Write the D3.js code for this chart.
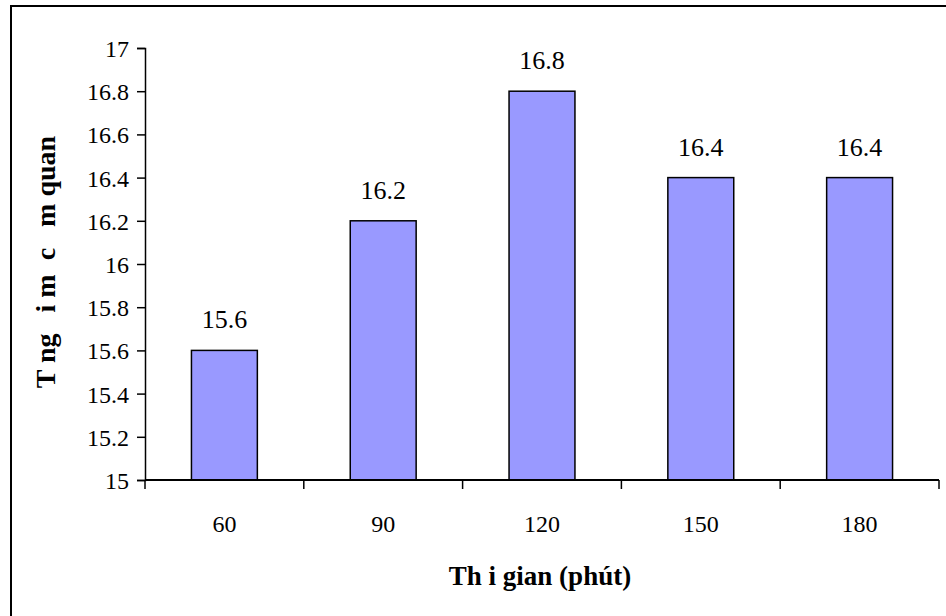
<!DOCTYPE html>
<html>
<head>
<meta charset="utf-8">
<script src="https://cdn.jsdelivr.net/npm/d3@7"></script>
<style>
  body { margin: 0; background: #fff; }
  svg, svg text { font-family: "Liberation Serif", "Times New Roman", serif !important; }
</style>
</head>
<body>
<div id="chart"></div>
<script>
var categories = ["60", "90", "120", "150", "180"];
var values = [15.6, 16.2, 16.8, 16.4, 16.4];
var yTicks = [15, 15.2, 15.4, 15.6, 15.8, 16, 16.2, 16.4, 16.6, 16.8, 17];
var yTitle = "T ng   i m  c   m quan";
var xTitle = "Th i gian (phút)";

var width = 946, height = 616;
var margin = {top: 48, right: 7, bottom: 136, left: 145};

var svg = d3.select("#chart").append("svg")
    .attr("width", width)
    .attr("height", height);

// outer frame (runs off right and bottom edge like the source)
svg.append("rect")
    .attr("x", 11).attr("y", 6)
    .attr("width", 1000).attr("height", 1000)
    .attr("fill", "none")
    .attr("stroke", "#000")
    .attr("stroke-width", 2);

var x = d3.scaleBand()
    .domain(categories)
    .range([margin.left, width - margin.right])
    .paddingInner(0.585)
    .paddingOuter(0.2925);

var xOuter = d3.scaleBand()
    .domain(categories)
    .range([margin.left, width - margin.right]);

var y = d3.scaleLinear()
    .domain([15, 17])
    .range([height - margin.bottom, margin.top]);

// bars
svg.selectAll(".bar")
    .data(values)
    .enter()
    .append("rect")
    .attr("class", "bar")
    .attr("x", function(d, i) { return x(categories[i]); })
    .attr("y", function(d) { return y(d); })
    .attr("width", x.bandwidth())
    .attr("height", function(d) { return y(15) - y(d); })
    .attr("fill", "#9999ff")
    .attr("stroke", "#000")
    .attr("stroke-width", 1.5);

// value labels
svg.selectAll(".lbl")
    .data(values)
    .enter()
    .append("text")
    .attr("class", "lbl")
    .attr("x", function(d, i) { return x(categories[i]) + x.bandwidth() / 2; })
    .attr("y", function(d) { return y(d) - 22; })
    .attr("text-anchor", "middle")
    .attr("font-size", "26px")
    .text(function(d) { return d; });

// y axis
var yAxis = svg.append("g")
    .attr("transform", "translate(" + margin.left + ",0)")
    .call(d3.axisLeft(y).tickValues(yTicks).tickSize(8).tickPadding(8)
      .tickFormat(function(d) { return d3.format("")(+d.toFixed(1)); }));
yAxis.attr("font-family", null);
yAxis.selectAll("text").attr("font-size", "24px").attr("fill", "#000").attr("dy", "0.35em");
yAxis.selectAll("line, path").attr("stroke", "#000").attr("stroke-width", 1.5);

// x axis: ticks at band boundaries
var xBoundaries = categories.map(function(c) { return xOuter(c); }).concat([width - margin.right]);
var xAxis = svg.append("g")
    .attr("transform", "translate(0," + y(15) + ")");
xAxis.append("line")
    .attr("x1", margin.left).attr("x2", width - margin.right)
    .attr("stroke", "#000").attr("stroke-width", 2);
xAxis.selectAll(".xt")
    .data(xBoundaries)
    .enter()
    .append("line")
    .attr("x1", function(d) { return d; })
    .attr("x2", function(d) { return d; })
    .attr("y1", 0).attr("y2", 9)
    .attr("stroke", "#000").attr("stroke-width", 1.5);
xAxis.selectAll(".xl")
    .data(categories)
    .enter()
    .append("text")
    .attr("x", function(d) { return xOuter(d) + xOuter.bandwidth() / 2; })
    .attr("y", 52)
    .attr("text-anchor", "middle")
    .attr("font-size", "24px")
    .text(function(d) { return d; });

// axis titles
svg.append("text")
    .attr("transform", "translate(55," + 262 + ") rotate(-90)")
    .attr("text-anchor", "middle")
    .attr("font-size", "28px")
    .attr("font-weight", "bold")
    .style("white-space", "pre")
    .text(yTitle);

svg.append("text")
    .attr("x", 540)
    .attr("y", 585)
    .attr("text-anchor", "middle")
    .attr("font-size", "27px")
    .attr("font-weight", "bold")
    .style("white-space", "pre")
    .text(xTitle);
</script>
</body>
</html>
